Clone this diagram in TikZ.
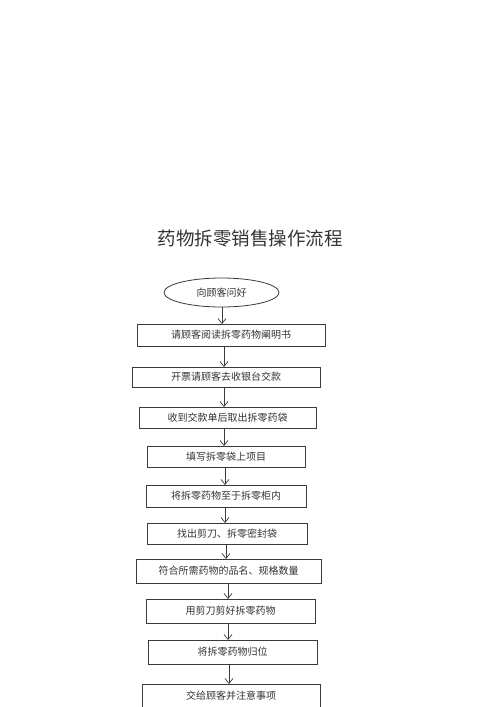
\documentclass[tikz,border=0pt]{standalone}
\usepackage{fontspec}
\newfontfamily\cjk{Noto Sans CJK SC}
\usetikzlibrary{arrows.meta,shapes.geometric}
\definecolor{ln}{HTML}{3A3A3A}
\definecolor{tx}{HTML}{333333}
\begin{document}
\begin{tikzpicture}[x=1pt,y=-1pt,
  stepbox/.style={draw=ln,line width=0.8pt,rectangle,inner sep=0pt,outer sep=0pt,
    font=\cjk\fontsize{10}{12}\selectfont,text=tx},
  oval/.style={draw=ln,line width=0.8pt,ellipse,inner sep=0pt,outer sep=0pt,
    font=\cjk\fontsize{10}{12}\selectfont,text=tx},
  arr/.style={draw=ln,line width=0.7pt,-{Straight Barb[length=5pt,width=8pt]}}]
\useasboundingbox (0,0) rectangle (500,707);
\node[font=\cjk\fontsize{18.5}{22}\selectfont,text=tx] (title) at (250,239) {药物拆零销售操作流程};
\node[oval,minimum width=115pt,minimum height=29pt] (e) at (221.5,292.5) {向顾客问好};
\node[stepbox,minimum width=188pt,minimum height=22pt] (b1) at (231,335) {请顾客阅读拆零药物阐明书};
\node[stepbox,minimum width=188pt,minimum height=20pt] (b2) at (226,377) {开票请顾客去收银台交款};
\node[stepbox,minimum width=177pt,minimum height=21pt] (b3) at (227.5,417.5) {收到交款单后取出拆零药袋};
\node[stepbox,minimum width=158pt,minimum height=21pt] (b4) at (226,456.5) {填写拆零袋上项目};
\node[stepbox,minimum width=160pt,minimum height=22pt] (b5) at (226,496) {将拆零药物至于拆零柜内};
\node[stepbox,minimum width=160pt,minimum height=21pt] (b6) at (227,533.5) {找出剪刀、拆零密封袋};
\node[stepbox,minimum width=185pt,minimum height=24pt] (b7) at (228.5,571) {符合所需药物的品名、规格数量};
\node[stepbox,minimum width=169pt,minimum height=24pt] (b8) at (230.5,611) {用剪刀剪好拆零药物};
\node[stepbox,minimum width=169pt,minimum height=24pt] (b9) at (232.5,652) {将拆零药物归位};
\node[stepbox,minimum width=178pt,minimum height=24pt] (b10) at (231,696) {交给顾客并注意事项};
\coordinate (x0) at (222,0);
\coordinate (x1) at (224,0);
\coordinate (x2) at (224,0);
\coordinate (x3) at (224,0);
\coordinate (x4) at (225,0);
\coordinate (x5) at (225,0);
\coordinate (x6) at (226,0);
\coordinate (x7) at (228,0);
\coordinate (x8) at (228,0);
\coordinate (x9) at (229,0);
\draw[arr] (e.south -| x0) -- (b1.north -| x0);
\draw[arr] (b1.south -| x1) -- (b2.north -| x1);
\draw[arr] (b2.south -| x2) -- (b3.north -| x2);
\draw[arr] (b3.south -| x3) -- (b4.north -| x3);
\draw[arr] (b4.south -| x4) -- (b5.north -| x4);
\draw[arr] (b5.south -| x5) -- (b6.north -| x5);
\draw[arr] (b6.south -| x6) -- (b7.north -| x6);
\draw[arr] (b7.south -| x7) -- (b8.north -| x7);
\draw[arr] (b8.south -| x8) -- (b9.north -| x8);
\draw[arr] (b9.south -| x9) -- (b10.north -| x9);
\end{tikzpicture}
\end{document}
